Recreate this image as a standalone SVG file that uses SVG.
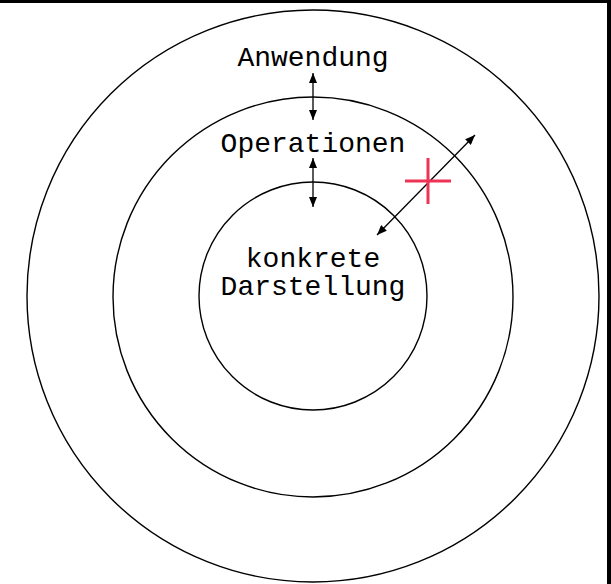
<svg xmlns="http://www.w3.org/2000/svg" width="611" height="584" viewBox="0 0 611 584">
<style>
.ring{fill:none;stroke:#000;stroke-width:1.4}
.lbl{font-family:"Liberation Mono","Courier New",monospace;font-size:28px;fill:#000;text-anchor:middle}
.conn{stroke:#000;stroke-width:1.3;fill:none;marker-start:url(#ah);marker-end:url(#ah)}
</style>
<defs>
<marker id="ah" viewBox="0 0 10 8" refX="10" refY="4" markerWidth="10" markerHeight="8" markerUnits="userSpaceOnUse" orient="auto-start-reverse">
<path d="M0,0 L10,4 L0,8 Z" fill="#000"/>
</marker>
</defs>
<rect x="0" y="0" width="611" height="584" fill="#fff"/>
<rect x="0" y="0" width="611" height="3" fill="#000"/>
<rect x="607" y="0" width="4" height="584" fill="#000"/>
<g id="anwendung">
<circle class="ring" cx="313" cy="296" r="286"/>
<text class="lbl" x="313" y="66">Anwendung</text>
</g>
<g id="operationen">
<circle class="ring" cx="313" cy="297" r="200"/>
<text class="lbl" x="313" y="152">Operationen</text>
</g>
<g id="darstellung">
<circle class="ring" cx="313" cy="296" r="114"/>
<text class="lbl" x="313" y="267">konkrete</text>
<text class="lbl" x="313" y="295">Darstellung</text>
</g>
<g id="connectors">
<line class="conn" x1="313" y1="73" x2="313" y2="120"/>
<line class="conn" x1="313" y1="158" x2="313" y2="207"/>
<line class="conn" x1="377" y1="235" x2="475" y2="135"/>
</g>
<g id="marker-cross" stroke="#ee3355" stroke-width="3">
<line x1="405" y1="181" x2="451" y2="181"/>
<line x1="428" y1="158" x2="428" y2="204"/>
</g>
</svg>
